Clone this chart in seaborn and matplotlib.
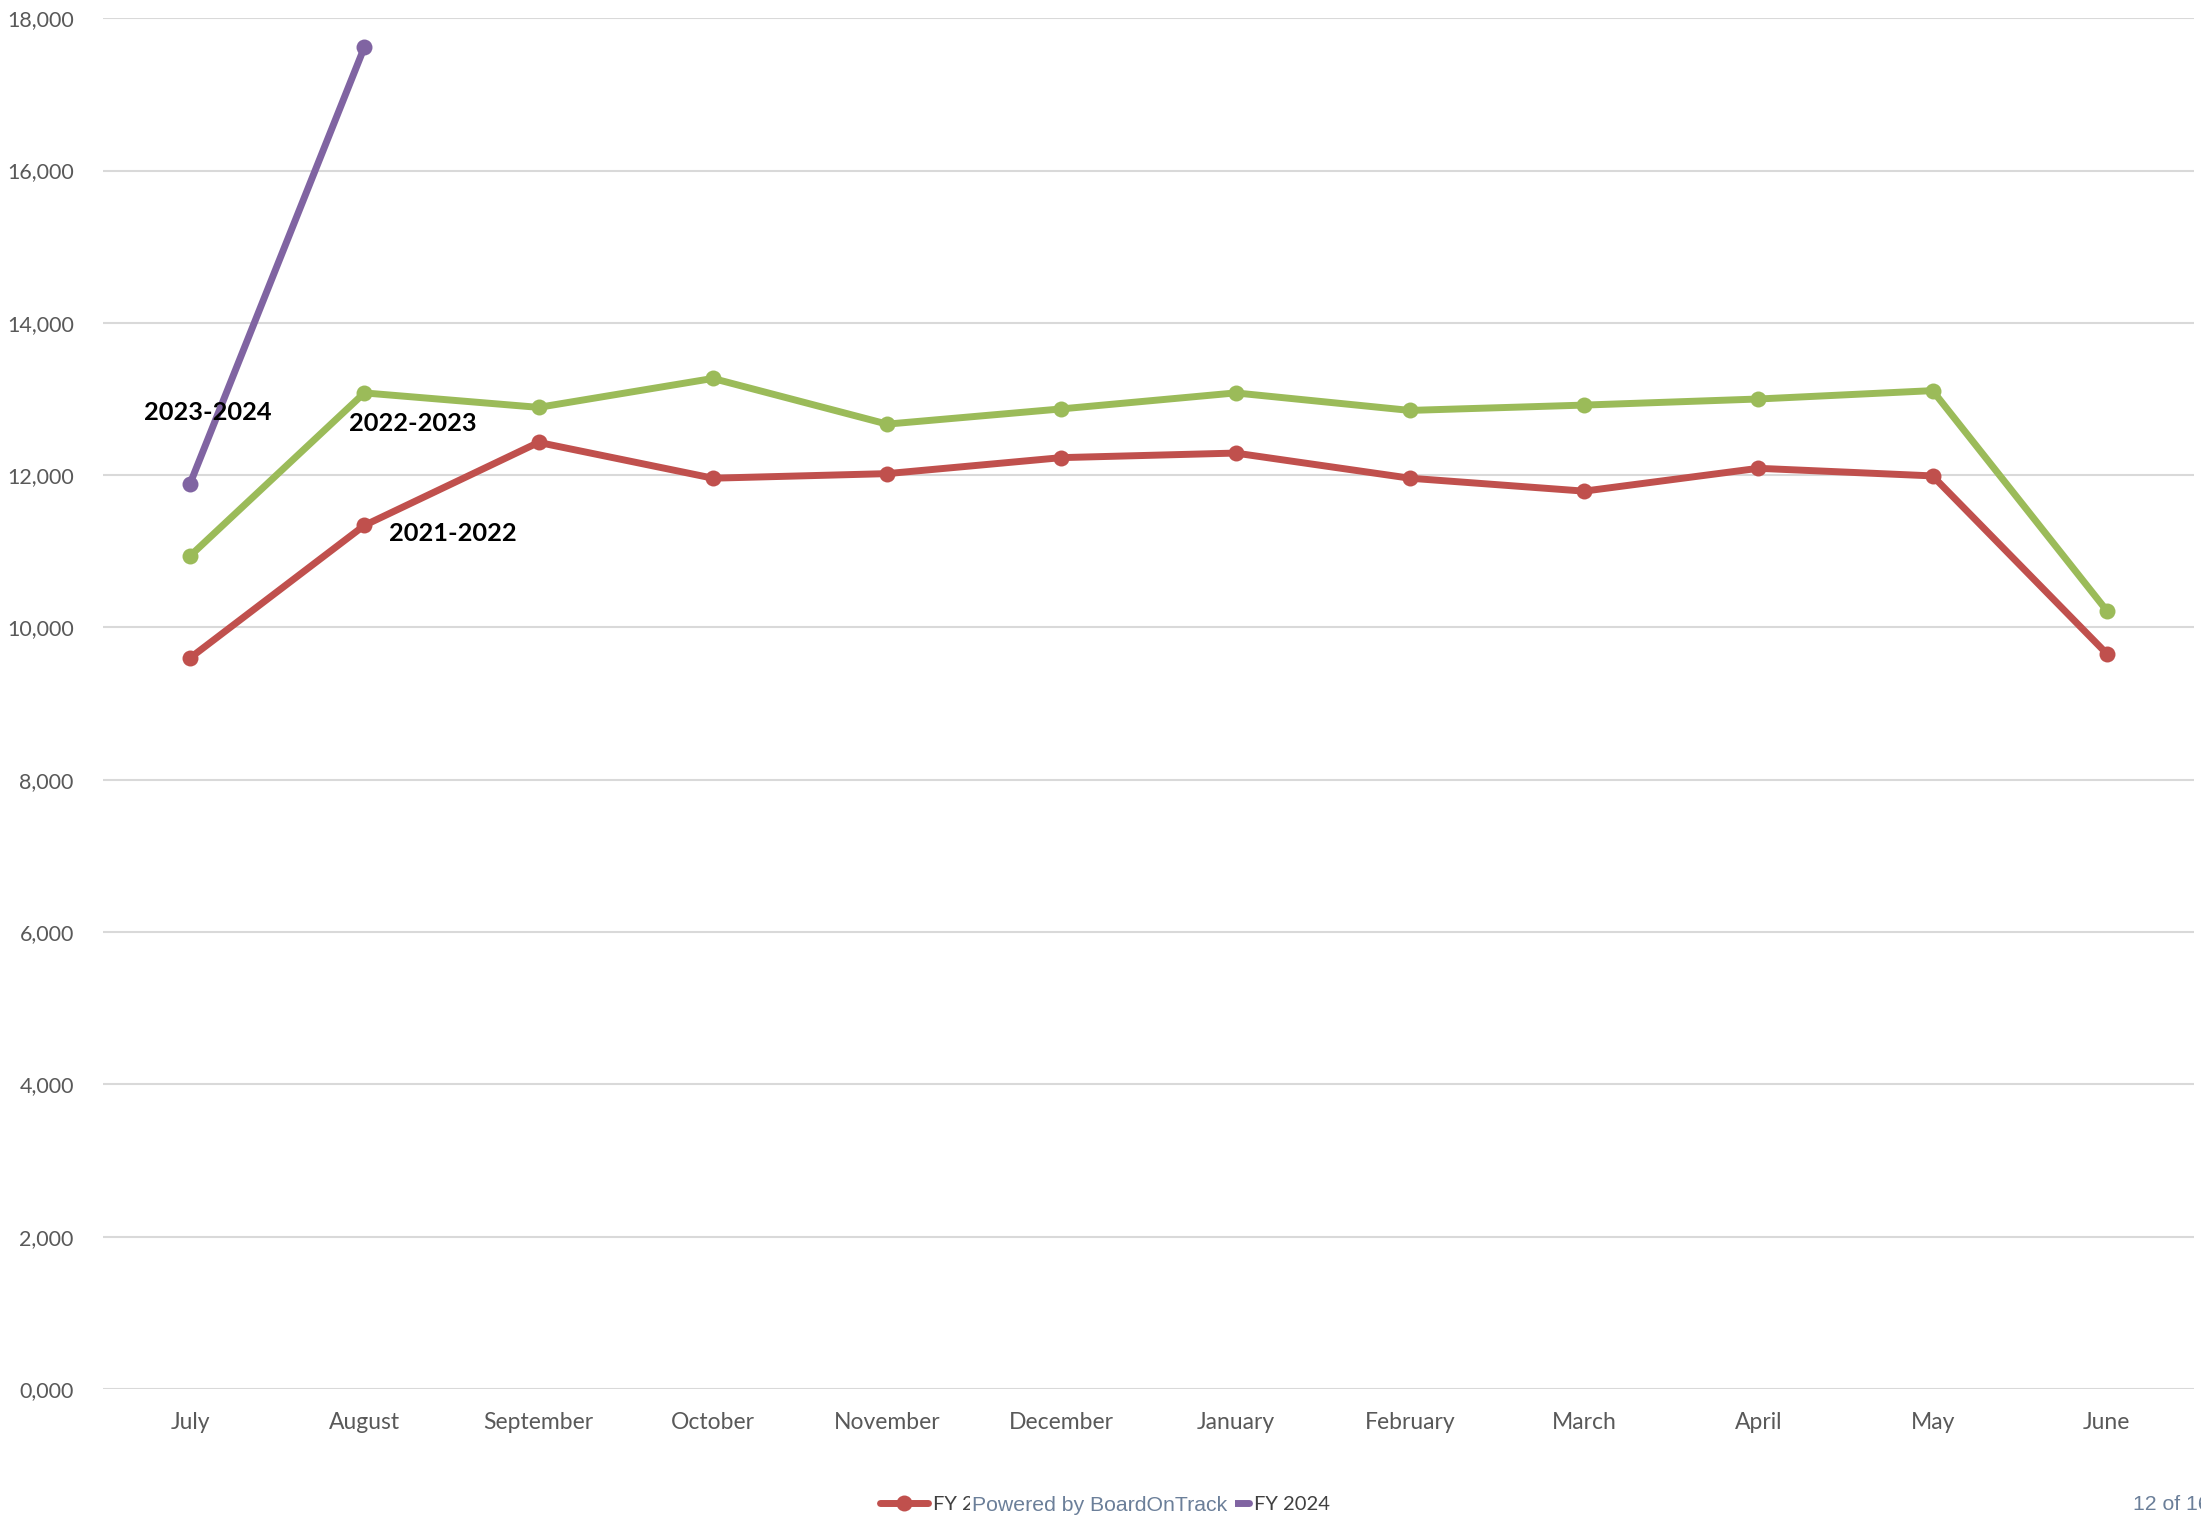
import pandas as pd
import matplotlib
import matplotlib.pyplot as plt
import seaborn as sns
from matplotlib.ticker import FuncFormatter

# Data
months = ["July", "August", "September", "October", "November", "December",
          "January", "February", "March", "April", "May", "June"]
fy2022 = [9600, 11340, 12430, 11960, 12020, 12230, 12290, 11960, 11790, 12090, 11990, 9655]
fy2023 = [10940, 13080, 12890, 13270, 12670, 12870, 13080, 12850, 12920, 13000, 13110, 10220]
fy2024 = [11890, 17620]

series_names = ["FY 2022", "FY 2023", "FY 2024"]
series_colors = ["#C0504D", "#9BBB59", "#8064A2"]
yticks = [0, 2000, 4000, 6000, 8000, 10000, 12000, 14000, 16000, 18000]

# Constructing long dataframe
rows = []
for name, values in zip(series_names, [fy2022, fy2023, fy2024]):
    for month, value in zip(months, values):
        rows.append({"Month": month, "Value": value, "Series": name})
df = pd.DataFrame(rows)

# Plot
sns.set_style("white")
plt.rcParams["font.family"] = ["Lato", "DejaVu Sans"]

fig = plt.figure(figsize=(22.01, 15.20), dpi=100)
ax = fig.add_axes([0.0468, 0.0862, 0.95, 0.9018])

palette = dict(zip(series_names, series_colors))
sns.pointplot(df, x="Month", y="Value", hue="Series", order=months,
              hue_order=series_names, palette=palette, dodge=False,
              errorbar=None, markers="o", markersize=11.5, linewidth=5,
              markeredgewidth=0, ax=ax)

ax.set_ylim(0, 18000)
ax.set_xlim(-0.5, 11.5)
ax.set_yticks(yticks)
ax.yaxis.set_major_formatter(FuncFormatter(lambda v, p: f"{int(v) // 1000},{int(v) % 1000:03d}"))
ax.set_xlabel(None)
ax.set_ylabel(None)
ax.tick_params(axis="y", length=0, pad=21, labelsize=15.5, labelcolor="#595959")
ax.tick_params(axis="x", length=0, pad=16.5, labelsize=16.5, labelcolor="#595959")
ax.grid(True, axis="y", color="#D9D9D9", linewidth=1.5)
ax.grid(False, axis="x")
ax.set_axisbelow(True)
for s in ax.spines.values():
    s.set_visible(False)

# Series labels
labels = [("2023-2024", 0.10, 12820), ("2022-2023", 1.28, 12680), ("2021-2022", 1.51, 11240)]
for txt, xpos, ypos in labels:
    ax.text(xpos, ypos, txt, ha="center", va="center", fontsize=18.3,
            fontweight="bold", color="black")

# Legend at the bottom
h, l = ax.get_legend_handles_labels()
ax.get_legend().remove()
leg = fig.legend(h, l, loc="center", bbox_to_anchor=(0.5020, 0.0105), ncol=3,
                 frameon=False, fontsize=14.5, labelcolor="#404040",
                 handlelength=2.4, handletextpad=0.25, columnspacing=1.55)
leg.set_zorder(1)

# Overlay text from the source page, drawn on top of the legend
# (trailing space widens the white box so it hides the purple legend marker)
fig.text(0.4416, 0.0095, "Powered by BoardOnTrack ", ha="left", va="center",
         fontsize=15.3, family="Liberation Sans", color="#6B7F99", zorder=5,
         bbox=dict(facecolor="white", edgecolor="none", pad=1.5))
fig.text(0.969, 0.0099, "12 of 16", ha="left", va="center",
         fontsize=15.3, family="Liberation Sans", color="#6B7F99")

plt.savefig("out.png", dpi=100)
plt.close()
